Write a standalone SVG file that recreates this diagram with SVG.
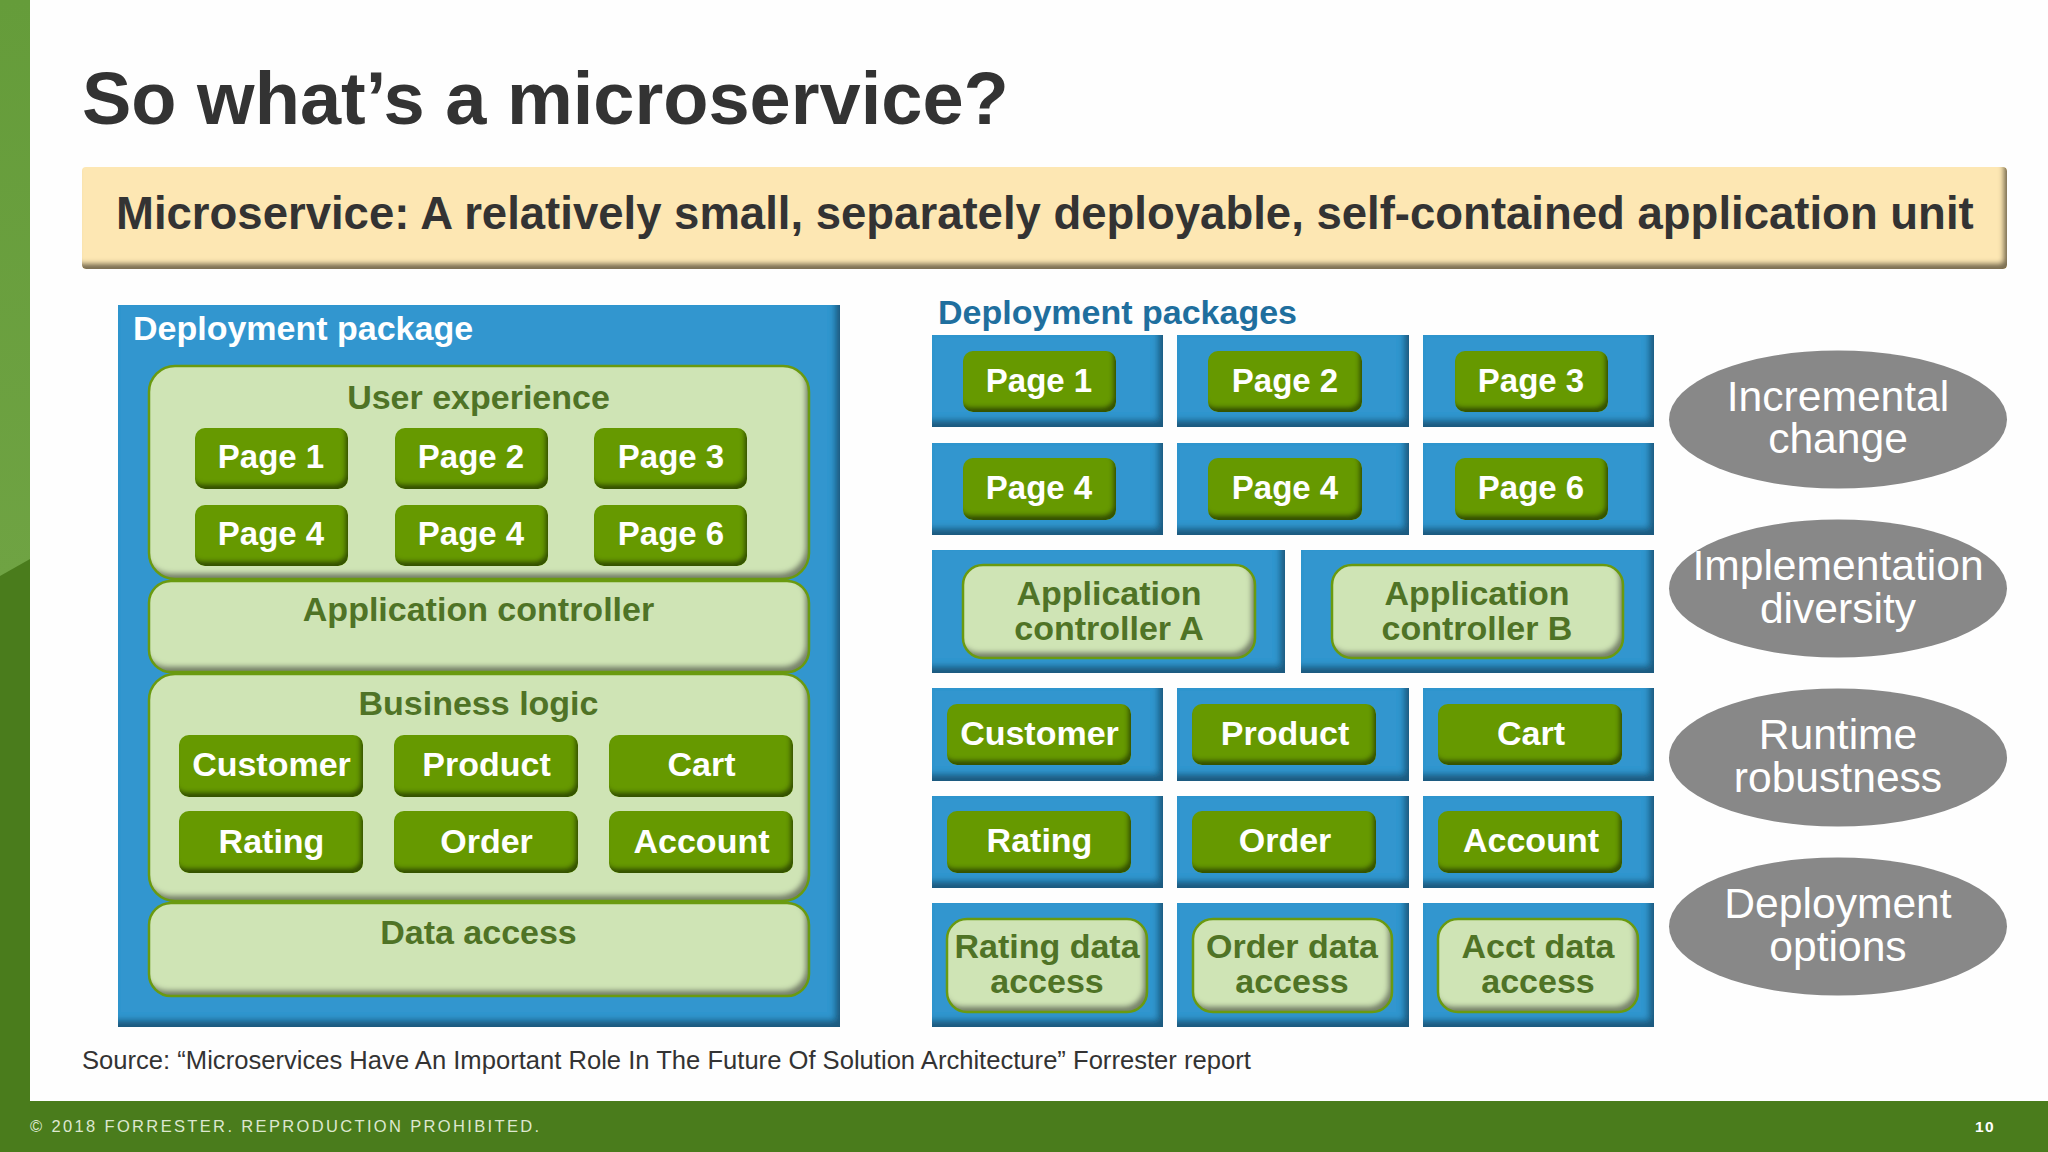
<svg xmlns="http://www.w3.org/2000/svg" width="2048" height="1152" viewBox="0 0 2048 1152">
<style>
text{font-family:"Liberation Sans",Arial,sans-serif;text-anchor:middle}
.b{font-weight:700;font-size:34px}
.p{font-size:33px}
.w{fill:#fff}
.g{fill:#4f7326}
.blue{fill:#3296cf;filter:url(#bevel)}
.btn{fill:#669900;filter:url(#bevelS)}
.pan{fill:#cfe4b5;filter:url(#bevelP)}
.ol{fill:none;stroke:#6a9a10;stroke-width:2.5}
.ell{fill:#888888}
.e{fill:#fff;font-size:42.600px}
.l{text-anchor:start}
</style>
<defs>
<filter id="bevel" x="-5%" y="-5%" width="110%" height="110%">
<feOffset in="SourceAlpha" dx="-5" dy="-7"/><feGaussianBlur stdDeviation="3"/><feComposite in="SourceAlpha" operator="out" result="m"/>
<feFlood flood-color="#0c2a40" flood-opacity=".72"/><feComposite in2="m" operator="in" result="s"/>
<feComposite in="s" in2="SourceAlpha" operator="in" result="c"/><feMerge><feMergeNode in="SourceGraphic"/><feMergeNode in="c"/></feMerge>
</filter>
<filter id="bevelS" x="-5%" y="-5%" width="110%" height="110%">
<feOffset in="SourceAlpha" dx="-3" dy="-5"/><feGaussianBlur stdDeviation="2.2"/><feComposite in="SourceAlpha" operator="out" result="m"/>
<feFlood flood-color="#1c2c00" flood-opacity=".8"/><feComposite in2="m" operator="in" result="s"/>
<feComposite in="s" in2="SourceAlpha" operator="in" result="c"/><feMerge><feMergeNode in="SourceGraphic"/><feMergeNode in="c"/></feMerge>
</filter>
<filter id="bevelP" x="-5%" y="-5%" width="110%" height="110%">
<feOffset in="SourceAlpha" dx="-4" dy="-6"/><feGaussianBlur stdDeviation="2.6"/><feComposite in="SourceAlpha" operator="out" result="m"/>
<feFlood flood-color="#3a3a3a" flood-opacity=".75"/><feComposite in2="m" operator="in" result="s"/>
<feComposite in="s" in2="SourceAlpha" operator="in" result="c"/><feMerge><feMergeNode in="SourceGraphic"/><feMergeNode in="c"/></feMerge>
</filter>
<filter id="bevelY" x="-2%" y="-10%" width="104%" height="120%">
<feOffset in="SourceAlpha" dx="-4" dy="-6"/><feGaussianBlur stdDeviation="2.4"/><feComposite in="SourceAlpha" operator="out" result="m"/>
<feFlood flood-color="#4a3f2a" flood-opacity=".85"/><feComposite in2="m" operator="in" result="s"/>
<feComposite in="s" in2="SourceAlpha" operator="in" result="c"/><feMerge><feMergeNode in="SourceGraphic"/><feMergeNode in="c"/></feMerge>
</filter>
<linearGradient id="strip" x1="0" y1="0" x2="0" y2="1"><stop offset="0" stop-color="#659c3a"/><stop offset="1" stop-color="#6fa343"/></linearGradient>
</defs>
<rect width="2048" height="1152" fill="#fefefe"/>
<g id="frame">
<rect x="0" y="0" width="30" height="1152" fill="#4a7c1c"/>
<path d="M0 0H30V559L0 576Z" fill="url(#strip)"/>
<rect x="0" y="1101" width="2048" height="51" fill="#4a7c1c"/>
<text class="l" x="30" y="1132" font-size="16.500" letter-spacing="2.350" fill="#dde8d0">© 2018 FORRESTER. REPRODUCTION PROHIBITED.</text>
<text x="1985" y="1132" font-size="15.500" font-weight="700" letter-spacing="1.500" fill="#fff">10</text>
</g>
<text id="title" class="l" x="82" y="124" font-size="74" font-weight="700" fill="#333333">So what’s a microservice?</text>
<g id="banner">
<rect x="82" y="167" width="1925" height="102" rx="4" fill="#fde7b3" filter="url(#bevelY)"/>
<text class="l" x="116" y="229" font-size="45.500" font-weight="700" fill="#333333">Microservice: A relatively small, separately deployable, self-contained application unit</text>
</g>
<g id="deployment-package">
<rect class="blue" x="118" y="305" width="722" height="722"/>
<text class="b w l" x="133" y="340">Deployment package</text>
<g id="user-experience"><rect class="pan" x="149" y="366" width="660" height="213" rx="26"/><rect class="ol" x="149" y="366" width="660" height="213" rx="26"/><text class="b g" x="478.500" y="409">User experience</text></g>
<g id="lp1"><rect class="btn" x="195" y="428" width="153" height="61" rx="10"/><text class="b w p" x="271" y="468">Page 1</text></g>
<g id="lp2"><rect class="btn" x="395" y="428" width="153" height="61" rx="10"/><text class="b w p" x="471" y="468">Page 2</text></g>
<g id="lp3"><rect class="btn" x="594" y="428" width="153" height="61" rx="10"/><text class="b w p" x="671" y="468">Page 3</text></g>
<g id="lp4"><rect class="btn" x="195" y="505" width="153" height="61" rx="10"/><text class="b w p" x="271" y="545">Page 4</text></g>
<g id="lp5"><rect class="btn" x="395" y="505" width="153" height="61" rx="10"/><text class="b w p" x="471" y="545">Page 4</text></g>
<g id="lp6"><rect class="btn" x="594" y="505" width="153" height="61" rx="10"/><text class="b w p" x="671" y="545">Page 6</text></g>
<g id="application-controller"><rect class="pan" x="149" y="581" width="660" height="91" rx="22"/><rect class="ol" x="149" y="581" width="660" height="91" rx="22"/><text class="b g" x="478.500" y="621">Application controller</text></g>
<g id="business-logic"><rect class="pan" x="149" y="674" width="660" height="227" rx="26"/><rect class="ol" x="149" y="674" width="660" height="227" rx="26"/><text class="b g" x="478.500" y="715">Business logic</text></g>
<g id="lb1"><rect class="btn" x="179" y="735" width="184" height="62" rx="10"/><text class="b w" x="271.500" y="776">Customer</text></g>
<g id="lb2"><rect class="btn" x="394" y="735" width="184" height="62" rx="10"/><text class="b w" x="486.500" y="776">Product</text></g>
<g id="lb3"><rect class="btn" x="609" y="735" width="184" height="62" rx="10"/><text class="b w" x="701.500" y="776">Cart</text></g>
<g id="lb4"><rect class="btn" x="179" y="811" width="184" height="62" rx="10"/><text class="b w" x="271.500" y="853">Rating</text></g>
<g id="lb5"><rect class="btn" x="394" y="811" width="184" height="62" rx="10"/><text class="b w" x="486.500" y="853">Order</text></g>
<g id="lb6"><rect class="btn" x="609" y="811" width="184" height="62" rx="10"/><text class="b w" x="701.500" y="853">Account</text></g>
<g id="data-access"><rect class="pan" x="149" y="903" width="660" height="93" rx="22"/><rect class="ol" x="149" y="903" width="660" height="93" rx="22"/><text class="b g" x="478.500" y="944">Data access</text></g>
</g>
<text id="packages-label" class="b l" x="938" y="324" fill="#1f6f9e">Deployment packages</text>
<g id="r1"><rect class="blue" x="932" y="335" width="231" height="92"/><rect class="btn" x="963" y="351" width="153" height="61" rx="10"/><text class="b w p" x="1039" y="392">Page 1</text></g>
<g id="r2"><rect class="blue" x="1177" y="335" width="232" height="92"/><rect class="btn" x="1208" y="351" width="154" height="61" rx="10"/><text class="b w p" x="1285" y="392">Page 2</text></g>
<g id="r3"><rect class="blue" x="1423" y="335" width="231" height="92"/><rect class="btn" x="1455" y="351" width="153" height="61" rx="10"/><text class="b w p" x="1531" y="392">Page 3</text></g>
<g id="r4"><rect class="blue" x="932" y="443" width="231" height="92"/><rect class="btn" x="963" y="458" width="153" height="62" rx="10"/><text class="b w p" x="1039" y="499">Page 4</text></g>
<g id="r5"><rect class="blue" x="1177" y="443" width="232" height="92"/><rect class="btn" x="1208" y="458" width="154" height="62" rx="10"/><text class="b w p" x="1285" y="499">Page 4</text></g>
<g id="r6"><rect class="blue" x="1423" y="443" width="231" height="92"/><rect class="btn" x="1455" y="458" width="153" height="62" rx="10"/><text class="b w p" x="1531" y="499">Page 6</text></g>
<g id="r7"><rect class="blue" x="932" y="550" width="353" height="123"/><rect class="pan" x="963" y="565" width="292" height="93" rx="20"/><rect class="ol" x="963" y="565" width="292" height="93" rx="20"/><text class="b g" x="1109" y="605">Application</text><text class="b g" x="1109" y="640">controller A</text></g>
<g id="r8"><rect class="blue" x="1301" y="550" width="353" height="123"/><rect class="pan" x="1332" y="565" width="291" height="93" rx="20"/><rect class="ol" x="1332" y="565" width="291" height="93" rx="20"/><text class="b g" x="1477" y="605">Application</text><text class="b g" x="1477" y="640">controller B</text></g>
<g id="r9"><rect class="blue" x="932" y="688" width="231" height="93"/><rect class="btn" x="947" y="704" width="184" height="61" rx="10"/><text class="b w" x="1039.500" y="745">Customer</text></g>
<g id="r10"><rect class="blue" x="1177" y="688" width="232" height="93"/><rect class="btn" x="1192" y="704" width="184" height="61" rx="10"/><text class="b w" x="1285" y="745">Product</text></g>
<g id="r11"><rect class="blue" x="1423" y="688" width="231" height="93"/><rect class="btn" x="1438" y="704" width="184" height="61" rx="10"/><text class="b w" x="1531" y="745">Cart</text></g>
<g id="r12"><rect class="blue" x="932" y="796" width="231" height="92"/><rect class="btn" x="947" y="811" width="184" height="62" rx="10"/><text class="b w" x="1039.500" y="852">Rating</text></g>
<g id="r13"><rect class="blue" x="1177" y="796" width="232" height="92"/><rect class="btn" x="1192" y="811" width="184" height="62" rx="10"/><text class="b w" x="1285" y="852">Order</text></g>
<g id="r14"><rect class="blue" x="1423" y="796" width="231" height="92"/><rect class="btn" x="1438" y="811" width="184" height="62" rx="10"/><text class="b w" x="1531" y="852">Account</text></g>
<g id="r15"><rect class="blue" x="932" y="903" width="231" height="124"/><rect class="pan" x="947" y="919" width="200" height="93" rx="20"/><rect class="ol" x="947" y="919" width="200" height="93" rx="20"/><text class="b g" x="1047" y="958">Rating data</text><text class="b g" x="1047" y="993">access</text></g>
<g id="r16"><rect class="blue" x="1177" y="903" width="232" height="124"/><rect class="pan" x="1193" y="919" width="199" height="93" rx="20"/><rect class="ol" x="1193" y="919" width="199" height="93" rx="20"/><text class="b g" x="1292" y="958">Order data</text><text class="b g" x="1292" y="993">access</text></g>
<g id="r17"><rect class="blue" x="1423" y="903" width="231" height="124"/><rect class="pan" x="1438" y="919" width="200" height="93" rx="20"/><rect class="ol" x="1438" y="919" width="200" height="93" rx="20"/><text class="b g" x="1538" y="958">Acct data</text><text class="b g" x="1538" y="993">access</text></g>
<g id="incremental"><ellipse class="ell" cx="1838" cy="419.500" rx="169" ry="69"/><text class="e" x="1838" y="411">Incremental</text><text class="e" x="1838" y="453">change</text></g>
<g id="implementation"><ellipse class="ell" cx="1838" cy="588.500" rx="169" ry="69"/><text class="e" x="1838" y="580">Implementation</text><text class="e" x="1838" y="623">diversity</text></g>
<g id="runtime"><ellipse class="ell" cx="1838" cy="757.500" rx="169" ry="69"/><text class="e" x="1838" y="749">Runtime</text><text class="e" x="1838" y="792">robustness</text></g>
<g id="deployment-options"><ellipse class="ell" cx="1838" cy="926.500" rx="169" ry="69"/><text class="e" x="1838" y="918">Deployment</text><text class="e" x="1838" y="961">options</text></g>
<text id="source" class="l" x="82" y="1069" font-size="25.600" fill="#333333">Source: “Microservices Have An Important Role In The Future Of Solution Architecture” Forrester report</text>
</svg>
